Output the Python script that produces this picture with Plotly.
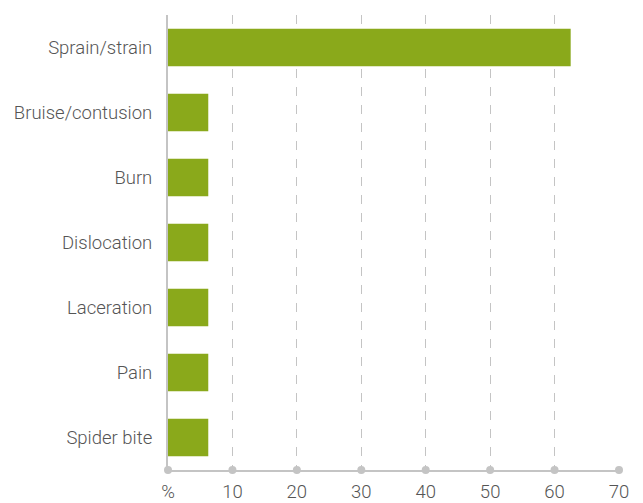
import plotly.graph_objects as go

categories = ["Sprain/strain", "Bruise/contusion", "Burn", "Dislocation",
              "Laceration", "Pain", "Spider bite"]
values = [62.5, 6.25, 6.25, 6.25, 6.25, 6.25, 6.25]
tick_vals = [0, 10, 20, 30, 40, 50, 60, 70]
tick_text = ["%", "10", "20", "30", "40", "50", "60", "70"]

BAR = "#8aa91b"
GRID = "#c4c4c4"
FONT = dict(family="Roboto", size=18.5, color="#555555", weight=300)

fig = go.Figure()
fig.add_trace(go.Bar(
    x=values, y=categories, orientation="h",
    marker=dict(color=BAR, line=dict(width=0)),
    width=0.58, hoverinfo="x+y",
))
# round tick markers sitting on the x axis line
fig.add_trace(go.Scatter(
    x=tick_vals, y=[0] * len(tick_vals), yaxis="y2",
    mode="markers", marker=dict(size=8, color=GRID, line=dict(width=0)),
    cliponaxis=False, hoverinfo="skip",
))

# page body has an 8px default margin, so the figure is sized to fit
fig.update_layout(
    width=635, height=495,
    margin=dict(l=160, r=24, t=7, b=33),
    plot_bgcolor="white", paper_bgcolor="white",
    font=FONT,
    showlegend=False,
    xaxis=dict(
        range=[0, 70], tickvals=tick_vals, ticktext=tick_text,
        showgrid=True, gridcolor=GRID, griddash="dash", gridwidth=1,
        zeroline=False, showline=True, linecolor=GRID, linewidth=2,
        ticks="outside", ticklen=4, tickcolor="rgba(0,0,0,0)",
        tickfont=FONT, fixedrange=True, automargin=False,
    ),
    yaxis=dict(
        autorange="reversed", showgrid=False, zeroline=False,
        showline=True, linecolor=GRID, linewidth=2,
        ticks="outside", ticklen=10, tickcolor="rgba(0,0,0,0)",
        tickfont=FONT, fixedrange=True, automargin=False,
    ),
    yaxis2=dict(
        overlaying="y", range=[0, 1], visible=False, fixedrange=True,
        showgrid=False, zeroline=False,
    ),
)

fig.write_html("out.html")
